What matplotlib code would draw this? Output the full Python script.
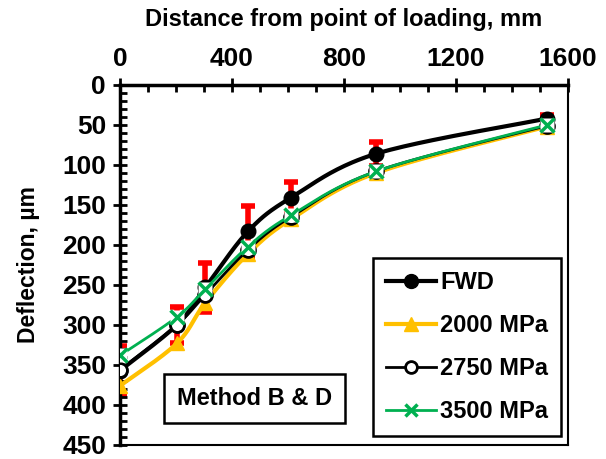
import numpy as np
import matplotlib
matplotlib.use("Agg")
import matplotlib.pyplot as plt
from matplotlib.ticker import MultipleLocator

plt.rcParams['font.family'] = ['Liberation Sans', 'DejaVu Sans']
plt.rcParams['font.weight'] = 'bold'

# ---- data ----
distance = [0, 203, 305, 457, 610, 914, 1524]
fwd = [357, 300, 253, 183, 141, 86, 42]
fwd_std = [31, 23, 31, 32, 20, 15, 5]
e2000 = [376, 323, 272, 211, 168, 110, 52]
e2750 = [356, 300, 262, 206, 165, 108, 51]
e3500 = [338, 290, 255, 202, 163, 108, 50]
series_labels = ['FWD', '2000 MPa', '2750 MPa', '3500 MPa']
xticks = [0, 400, 800, 1200, 1600]
yticks = [0, 50, 100, 150, 200, 250, 300, 350, 400, 450]


def smooth(x, y, n=40):
    x = np.asarray(x, float); y = np.asarray(y, float)
    P = np.column_stack([x, y])
    out = []
    for i in range(len(P) - 1):
        p0 = P[i - 1] if i > 0 else P[i]
        p1 = P[i]; p2 = P[i + 1]
        p3 = P[i + 2] if i + 2 < len(P) else P[i + 1]
        c1 = p1 + (p2 - p0) / 6.0
        c2 = p2 - (p3 - p1) / 6.0
        t = np.linspace(0, 1, n)[:, None]
        b = ((1 - t) ** 3) * p1 + 3 * ((1 - t) ** 2) * t * c1 + 3 * (1 - t) * t ** 2 * c2 + t ** 3 * p2
        out.append(b if i == 0 else b[1:])
    B = np.vstack(out)
    return B[:, 0], B[:, 1]


fig = plt.figure(figsize=(6.06, 4.59), dpi=100)
ax = fig.add_axes([120 / 606, 1 - 445 / 459, 448 / 606, 360 / 459])

orange = '#FFC000'
green = '#00B050'

# error bars (behind)
ax.errorbar(distance, fwd, yerr=fwd_std, fmt='none', ecolor='#FF0000',
            elinewidth=4, capsize=5, capthick=4, zorder=1)

# FWD
sx, sy = smooth(distance, fwd)
ax.plot(sx, sy, color='black', lw=3, zorder=2)
ax.plot(distance, fwd, 'o', color='black', ms=10.5, zorder=2)

# 2000 MPa
sx, sy = smooth(distance, e2000)
ax.plot(sx, sy, color=orange, lw=3, zorder=3)
ax.plot(distance, e2000, '^', color=orange, ms=10.5, zorder=3)

# 2750 MPa
sx, sy = smooth(distance, e2750)
ax.plot(sx, sy, color='black', lw=2, zorder=4)
ax.plot(distance, e2750, 'o', mfc='white', mec='black', mew=2, ms=10, zorder=4)

# 3500 MPa
sx, sy = smooth(distance, e3500)
ax.plot(sx, sy, color=green, lw=2, zorder=5)
ax.plot(distance, e3500, 's', mfc='white', mec='none', ms=9.5, zorder=5)
ax.plot(distance, e3500, 'x', color=green, mew=2.5, ms=9.5, zorder=5)

# legend handles
h1, = ax.plot([], [], '-o', color='black', lw=3, ms=10)
h2, = ax.plot([], [], '-^', color=orange, lw=3, ms=10)
h3, = ax.plot([], [], '-o', color='black', lw=2, mfc='white', mew=2, ms=8.5)
h4, = ax.plot([], [], '-x', color=green, lw=2, mew=2.5, ms=9)
leg = ax.legend([h1, h2, h3, h4], series_labels, loc='lower right',
                bbox_to_anchor=(0.985, 0.025), fontsize=17, frameon=True,
                fancybox=False, edgecolor='black', framealpha=1,
                handlelength=2.1, handletextpad=0.2, labelspacing=0.85,
                borderpad=0.55, borderaxespad=0)
leg.get_frame().set_linewidth(1.8)
leg.set_zorder(10)

ax.set_xlim(0, 1600)
ax.set_ylim(450, 0)
ax.xaxis.tick_top()
ax.xaxis.set_label_position('top')
ax.set_xticks(xticks)
ax.set_yticks(yticks)
ax.xaxis.set_minor_locator(MultipleLocator(100))
ax.yaxis.set_minor_locator(MultipleLocator(10))
ax.tick_params(axis='both', which='major', direction='inout', length=10, width=2,
               labelsize=19)
ax.tick_params(axis='x', which='major', pad=5)
ax.tick_params(axis='y', which='major', pad=5)
ax.tick_params(axis='both', which='minor', direction='in', length=5, width=2)
ax.tick_params(axis='x', which='both', top=True, bottom=False)
ax.tick_params(axis='y', which='both', left=True, right=False)
for lab in ax.get_xticklabels() + ax.get_yticklabels():
    lab.set_fontweight('bold')

for s in ['left', 'top']:
    ax.spines[s].set_linewidth(2.5)
for s in ['right', 'bottom']:
    ax.spines[s].set_linewidth(1.5)

ax.set_xlabel('Distance from point of loading, mm', fontsize=17, fontweight='bold', labelpad=15)
ax.set_ylabel('Deflection, \u00b5m', fontsize=16.5, fontweight='bold', labelpad=16)

ax.text(0.3, 0.13, 'Method B & D', transform=ax.transAxes, fontsize=17,
        fontweight='bold', ha='center', va='center',
        bbox=dict(boxstyle='square,pad=0.55', fc='white', ec='black', lw=1.8), zorder=10)

ax.text(0.883, 0.305, 'STD', transform=ax.transAxes, fontsize=15.5,
        fontweight='bold', ha='right', va='center')
ax.errorbar([0.92], [0.305], yerr=[0.03], transform=ax.transAxes, fmt='none',
            ecolor='black', elinewidth=1.5, capsize=5, capthick=1.5, clip_on=False)

fig.savefig('out.png', dpi=100)
